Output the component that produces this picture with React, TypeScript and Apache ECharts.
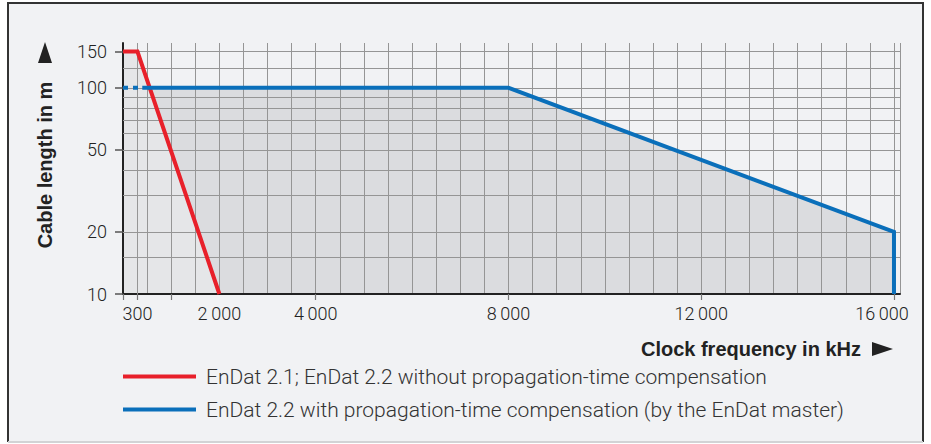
import React, { useEffect, useRef } from 'react';
import * as echarts from 'echarts';

const redName = 'EnDat 2.1; EnDat 2.2 without propagation-time compensation';
const blueName = 'EnDat 2.2 with propagation-time compensation (by the EnDat master)';

// Clock frequency [kHz], cable length [m]
const redPoints = [[0, 150], [300, 150], [2000, 10]];
const blueDashedPoints = [[0, 100], [400, 100]];
const bluePoints = [[400, 100], [8000, 100], [16000, 20], [16000, 10]];
const blueAreaPoints = [[0, 100], [8000, 100], [16000, 20], [16000, 10]];

const xLabelValues = [300, 2000, 4000, 8000, 12000, 16000];
const xTickValues = [0, 300, 1000, 4000, 8000, 12000, 16000];
const xGridInterval = 500;
const xExtraGridValues = [300];
const yLabelValues = [10, 20, 50, 100, 150];
const yGridValues = [15, 20, 30, 40, 50, 60, 70, 80, 90, 100, 125, 150];

const RED = '#e8202a';
const BLUE = '#0a6fba';
const GRIDC = '#959595';
const AXISC = '#222222';
const LABEL_FONT = 'Roboto';
const X_MAX = 16125;

export default function App() {
  const ref = useRef<HTMLDivElement>(null);
  useEffect(() => {
    if (!ref.current) return;
    const chart = echarts.init(ref.current, undefined, { renderer: 'svg' });
    const lastX = xLabelValues[xLabelValues.length - 1];
    const fmtNum = (v: number) => (v < 1000 ? String(v) : `${Math.round(v / 1000)}\u2009000`);
    const fmtX = (v: number) => (v === lastX ? `{last|${fmtNum(v)}}` : fmtNum(v));
    const titleFont = 'bold 20px "Liberation Sans", Arial, sans-serif';
    chart.setOption({
      animation: false,
      backgroundColor: '#ffffff',
      grid: { left: 123, top: 43, right: 31, bottom: 150, containLabel: false },
      xAxis: [
        {
          type: 'value',
          min: 0,
          max: X_MAX,
          z: 3,
          axisLine: { show: true, onZero: false, lineStyle: { color: AXISC, width: 2 } },
          axisTick: { show: true, customValues: xTickValues, length: 6, lineStyle: { color: '#777', width: 1.2 } },
          axisLabel: {
            show: true,
            customValues: xLabelValues,
            formatter: fmtX,
            margin: 10,
            color: '#222',
            fontFamily: LABEL_FONT,
            fontWeight: 300,
            fontSize: 18,
            rich: {
              last: { color: '#222', fontFamily: LABEL_FONT, fontWeight: 300, fontSize: 18, padding: [0, 24, 0, 0] },
            },
          },
          splitLine: { show: false },
        },
        {
          type: 'value',
          position: 'top',
          min: 0,
          max: X_MAX,
          interval: xGridInterval,
          z: 2,
          axisLine: { show: false },
          axisTick: { show: false },
          axisLabel: { show: false },
          splitLine: { show: true, lineStyle: { color: GRIDC, width: 1 } },
        },
      ],
      yAxis: {
        type: 'log',
        logBase: 10,
        min: 10,
        max: 165,
        z: 3,
        axisLine: { show: true, onZero: false, lineStyle: { color: AXISC, width: 2 } },
        axisTick: { show: true, customValues: yLabelValues, length: 8, lineStyle: { color: '#555', width: 1.5 } },
        axisLabel: {
          show: true,
          customValues: yLabelValues,
          margin: 16,
          color: '#222',
          fontFamily: LABEL_FONT,
          fontWeight: 300,
          fontSize: 18,
        },
        splitLine: { show: false },
      },
      legend: {
        show: true,
        orient: 'vertical',
        left: 123,
        top: 366,
        padding: 0,
        itemWidth: 73,
        itemHeight: 4,
        itemGap: 12,
        icon: 'rect',
        data: [redName, blueName],
        textStyle: { color: '#333', fontFamily: LABEL_FONT, fontWeight: 300, fontSize: 21, padding: [0, 0, 0, 5] },
        selectedMode: false,
      },
      graphic: [
        { type: 'rect', z: -100, silent: true, shape: { x: 8, y: 3, width: 915, height: 439 }, style: { fill: '#f1f2f4' } },
        { type: 'polyline', z: -90, silent: true, shape: { points: [[8, 442], [8, 3], [923, 3], [923, 442]] }, style: { stroke: '#333', lineWidth: 2, fill: 'none' } },
        { type: 'line', z: -90, silent: true, shape: { x1: 8, y1: 442, x2: 923, y2: 442 }, style: { stroke: '#d2d3d5', lineWidth: 2 } },
        {
          type: 'text', silent: true, x: 45, y: 165, rotation: Math.PI / 2,
          style: { text: 'Cable length in m', fill: '#222', font: titleFont, align: 'center', verticalAlign: 'middle' },
        },
        { type: 'polygon', silent: true, shape: { points: [[38, 63], [52, 63], [45, 42]] }, style: { fill: '#222' } },
        {
          type: 'text', silent: true, x: 861, y: 349,
          style: { text: 'Clock frequency in kHz', fill: '#222', font: titleFont, align: 'right', verticalAlign: 'middle' },
        },
        { type: 'polygon', silent: true, shape: { points: [[872, 342], [872, 356], [893, 349]] }, style: { fill: '#222' } },
      ],
      series: [
        {
          name: 'blueArea', type: 'line', z: 1, data: blueAreaPoints, symbol: 'none', silent: true,
          lineStyle: { width: 0 }, areaStyle: { color: '#dbdcdf', opacity: 1, origin: 'start' },
        },
        {
          name: 'redArea', type: 'line', z: 1, data: redPoints, symbol: 'none', silent: true,
          lineStyle: { width: 0 }, areaStyle: { color: '#e5e6e8', opacity: 1, origin: 'start' },
        },
        {
          name: 'grid', type: 'line', z: 4, data: [], symbol: 'none', silent: true,
          markLine: {
            silent: true, symbol: ['none', 'none'], animation: false,
            label: { show: false },
            lineStyle: { color: GRIDC, width: 1, type: 'solid' },
            emphasis: { disabled: true },
            data: [
              ...yGridValues.map((v) => ({ yAxis: v })),
              ...xExtraGridValues.map((v) => ({ xAxis: v })),
            ],
          },
        },
        {
          name: redName, type: 'line', z: 5, color: RED, data: redPoints, symbol: 'none',
          lineStyle: { color: RED, width: 4, join: 'miter' },
        },
        {
          name: 'blueDashed', type: 'line', z: 5, color: BLUE, data: blueDashedPoints, symbol: 'none',
          lineStyle: { color: BLUE, width: 4, type: [5, 5] },
        },
        {
          name: blueName, type: 'line', z: 5, color: BLUE, data: bluePoints, symbol: 'none',
          lineStyle: { color: BLUE, width: 4, join: 'miter' },
        },
      ],
    });
    return () => chart.dispose();
  }, []);
  return <div ref={ref} style={{ position: 'fixed', left: 0, top: 0, width: 931, height: 444 }} />;
}
